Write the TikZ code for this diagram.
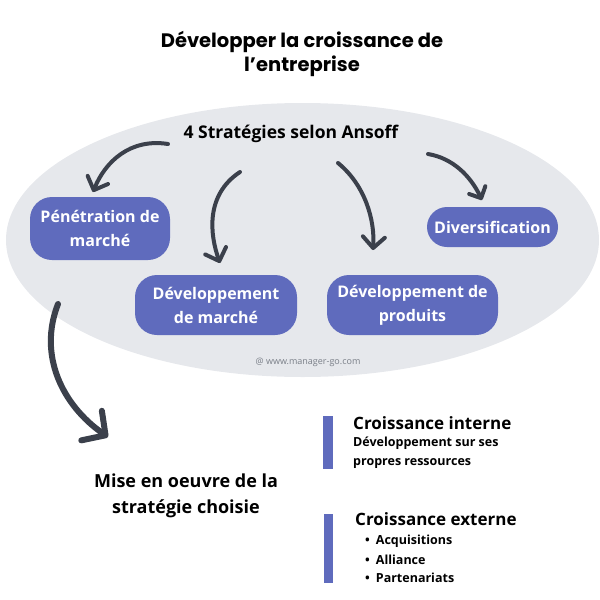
\documentclass[tikz,border=0pt]{standalone}
\usepackage{fontspec}
\setmainfont{Open Sans}
\newfontfamily\titlefont{Poppins}
\usetikzlibrary{arrows.meta}
\definecolor{boxblue}{HTML}{5F6BBD}
\definecolor{ellgray}{HTML}{E6E8EC}
\definecolor{arrowgray}{HTML}{3B404B}
\definecolor{marktext}{HTML}{7A7F88}
\begin{document}
\begin{tikzpicture}[x=1pt,y=-1pt,
  stratbox/.style={fill=boxblue, rounded corners=22pt, text=white,
    font=\bfseries\fontsize{16}{24}\selectfont, align=center, inner sep=0pt},
  curvearrow/.style={draw=arrowgray, line width=4pt, line cap=round,
    -{Straight Barb[length=11pt,width=22pt,round]}},
  bigarrow/.style={draw=arrowgray, line width=6pt, line cap=round,
    -{Straight Barb[length=17pt,width=36pt,round]}},
  headtext/.style={font=\bfseries\fontsize{18}{26}\selectfont, align=center, inner sep=0pt},
  subtext/.style={font=\bfseries\fontsize{12.5}{19}\selectfont, align=left, inner sep=0pt, anchor=west},
  sidebar/.style={fill=boxblue}
]
\useasboundingbox (0,0) rectangle (600,600);
\fill[ellgray] (302.5,240) ellipse [x radius=296.5, y radius=137];

\node[font=\titlefont\bfseries\fontsize{19.5}{24}\selectfont, align=center, inner sep=0pt] (title) at (302,54) {Développer la croissance de\\l’entreprise};

\node[font=\bfseries\fontsize{17.5}{20}\selectfont, inner sep=0pt] (ansoff) at (291,134) {4 Stratégies selon Ansoff};

\node[stratbox, minimum width=140pt, minimum height=63pt] (pen) at (100,228.5) {Pénétration de\\marché};
\node[stratbox, minimum width=162pt, minimum height=60pt] (devm) at (216,305) {Développement\\de marché};
\node[stratbox, minimum width=171pt, minimum height=60pt] (devp) at (412.5,305) {Développement de\\produits};
\node[stratbox, minimum width=131pt, minimum height=40pt, rounded corners=20pt] (div) at (492.5,227) {Diversification};

\node[font=\fontsize{9}{10}\selectfont, text=marktext, inner sep=0pt] (mark) at (308,362) {@ www.manager-go.com};

\coordinate (s1) at (168,144); \coordinate (e1) at (93,192);
\coordinate (s2) at (240,172); \coordinate (e2) at (220,263);
\coordinate (s3) at (338,163); \coordinate (e3) at (373,250);
\coordinate (s4) at (428,154); \coordinate (e4) at (482,200);
\coordinate (s5) at (58,304);  \coordinate (e5) at (108,437);

\draw[curvearrow] (s1) .. controls (130,138) and (105,162) .. (e1);
\draw[curvearrow] (s2) .. controls (205,195) and (210,235) .. (e2);
\draw[curvearrow] (s3) .. controls (365,185) and (375,220) .. (e3);
\draw[curvearrow, -{Straight Barb[length=9pt,width=18pt,round]}] (s4) .. controls (452,158) and (470,175) .. (e4);
\draw[bigarrow] (s5) .. controls (38,355) and (62,405) .. (e5);

\node[headtext] (mise) at (186,496) {Mise en oeuvre de la\\stratégie choisie};

\fill[sidebar] (323,416) rectangle (333,469);
\node[subtext, font=\bfseries\fontsize{17}{20}\selectfont] (ci) at (353,423) {Croissance interne};
\node[subtext] (cid) at (353,452.5) {Développement sur ses\\propres ressources};

\fill[sidebar] (324,514) rectangle (333,583);
\node[subtext, font=\bfseries\fontsize{17}{20}\selectfont] (ce) at (355,519) {Croissance externe};
\node[subtext] (b1) at (365,541.5) {•\hspace{6pt}Acquisitions};
\node[subtext] (b2) at (365,559.5) {•\hspace{6pt}Alliance};
\node[subtext] (b3) at (365,577.5) {•\hspace{6pt}Partenariats};
\end{tikzpicture}
\end{document}
